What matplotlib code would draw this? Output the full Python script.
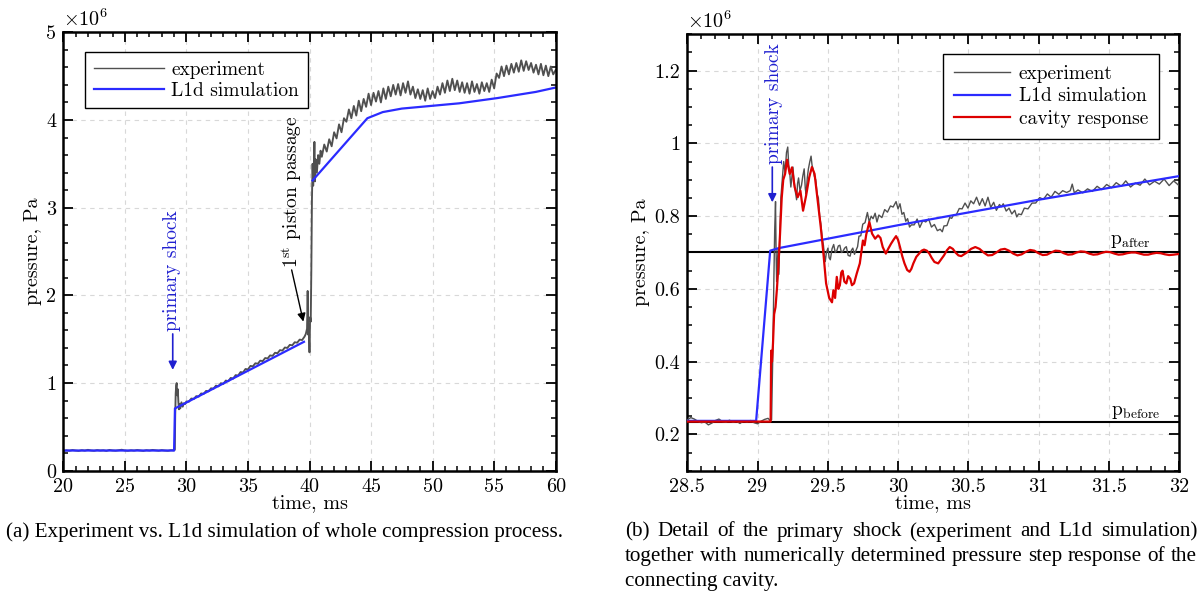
import numpy as np
import matplotlib
matplotlib.use("Agg")
import matplotlib.pyplot as plt
from matplotlib.ticker import MultipleLocator, FormatStrFormatter

plt.rcParams["font.family"] = ["cmr10", "DejaVu Serif"]
plt.rcParams["mathtext.fontset"] = "cm"
plt.rcParams["axes.unicode_minus"] = False
plt.rcParams["axes.formatter.use_mathtext"] = True

# ---- data (pressure in 1e6 Pa, time in ms) ----
# (a) whole compression process, experiment
exp_a_t0 = np.linspace(20.0, 28.75, 36)
exp_a_p0 = [0.225, 0.232, 0.228, 0.236, 0.230, 0.226, 0.234, 0.229, 0.238, 0.231, 0.227, 0.235,
            0.230, 0.233, 0.226, 0.237, 0.231, 0.228, 0.234, 0.239, 0.230, 0.227, 0.233, 0.229,
            0.236, 0.231, 0.226, 0.234, 0.230, 0.237, 0.232, 0.228, 0.235, 0.230, 0.227, 0.234]
exp_a_t1 = [29.0, 29.06, 29.09, 29.13, 29.17, 29.21, 29.25, 29.3, 29.35, 29.4, 29.45, 29.5,
            29.6, 29.7, 29.8, 29.9]
exp_a_p1 = [0.232, 0.24, 0.62, 0.88, 0.97, 1.0, 0.86, 0.93, 0.78, 0.70, 0.76, 0.71,
            0.78, 0.73, 0.77, 0.76]
exp_a_t2 = np.linspace(30.0, 39.6, 49)
exp_a_p2 = [0.79, 0.787, 0.823, 0.818, 0.85, 0.845, 0.881, 0.876, 0.91, 0.905,
            0.94, 0.935, 0.97, 0.962, 0.998, 0.99, 1.028, 1.02, 1.058, 1.05,
            1.09, 1.085, 1.125, 1.12, 1.16, 1.155, 1.195, 1.19, 1.225, 1.22,
            1.255, 1.25, 1.285, 1.28, 1.315, 1.31, 1.345, 1.34, 1.375, 1.37,
            1.405, 1.40, 1.435, 1.43, 1.465, 1.46, 1.495, 1.49, 1.53]
exp_a_t3 = [39.7, 39.8, 39.85, 39.9, 39.95, 40.0, 40.05, 40.1, 40.15, 40.2, 40.25, 40.3,
            40.35, 40.4, 40.45, 40.5, 40.6, 40.7, 40.8, 40.9]
exp_a_p3 = [1.56, 1.62, 2.05, 1.55, 1.60, 1.35, 1.75, 1.70, 2.30, 3.10, 3.50, 3.25,
            3.45, 3.75, 3.30, 3.55, 3.40, 3.60, 3.50, 3.65]
exp_a_t4 = np.linspace(41.0, 60.0, 96)
exp_a_p4 = [3.58, 3.72, 3.64, 3.78, 3.70, 3.86, 3.79, 3.95, 3.86, 4.02,
            3.98, 4.12, 4.02, 4.16, 4.05, 4.22, 4.10, 4.24, 4.15, 4.30,
            4.17, 4.31, 4.21, 4.33, 4.20, 4.36, 4.24, 4.38, 4.27, 4.40,
            4.29, 4.41, 4.28, 4.42, 4.31, 4.44, 4.29, 4.38, 4.25, 4.35,
            4.24, 4.34, 4.22, 4.36, 4.24, 4.33, 4.25, 4.38, 4.29, 4.42,
            4.31, 4.45, 4.33, 4.47, 4.34, 4.45, 4.32, 4.43, 4.31, 4.42,
            4.30, 4.44, 4.32, 4.41, 4.30, 4.43, 4.33, 4.42, 4.32, 4.46,
            4.36, 4.53, 4.48, 4.61, 4.50, 4.62, 4.52, 4.64, 4.54, 4.65,
            4.55, 4.68, 4.56, 4.67, 4.57, 4.65, 4.54, 4.63, 4.52, 4.64,
            4.51, 4.62, 4.50, 4.61, 4.52, 4.57]

# (a) L1d simulation (gap where the jump is hidden)
sim_a_t = [20.0, 29.0, 29.07, 39.55, np.nan, 40.25, 44.7, 45.95, 47.5, 49.06, 52.16, 55.27, 58.38, 60.0]
sim_a_p = [0.23, 0.23, 0.71, 1.47, np.nan, 3.31, 4.02, 4.09, 4.13, 4.15, 4.19, 4.25, 4.32, 4.37]

# (b) detail of the primary shock, experiment
exp_b_t0 = np.linspace(28.5, 29.075, 24)
exp_b_p0 = [0.240, 0.246, 0.242, 0.236, 0.232, 0.234, 0.226, 0.231, 0.238, 0.242, 0.235, 0.233,
            0.239, 0.233, 0.236, 0.230, 0.237, 0.234, 0.238, 0.232, 0.229, 0.236, 0.241, 0.244]
exp_b_t1 = [29.090, 29.100, 29.104, 29.110, 29.116, 29.122, 29.128, 29.132, 29.136, 29.140,
            29.146, 29.152, 29.158, 29.166, 29.176, 29.186, 29.196, 29.206, 29.215, 29.222,
            29.229, 29.237, 29.245, 29.252, 29.259, 29.268, 29.278, 29.285, 29.292, 29.302,
            29.313, 29.322, 29.332, 29.340, 29.346, 29.354, 29.362, 29.372, 29.381, 29.388,
            29.395, 29.404, 29.414, 29.424, 29.433, 29.442, 29.450, 29.460, 29.469, 29.476,
            29.482, 29.490, 29.501, 29.510, 29.518, 29.530, 29.542, 29.553, 29.564, 29.575,
            29.586, 29.597, 29.608, 29.620, 29.632, 29.645, 29.659, 29.668, 29.678, 29.690,
            29.700, 29.712, 29.722, 29.735, 29.749, 29.765, 29.782, 29.795, 29.809, 29.822,
            29.837, 29.850, 29.864, 29.885, 29.905, 29.925, 29.946, 29.965, 29.986, 30.000,
            30.014, 30.028, 30.041, 30.055, 30.068, 30.082, 30.095, 30.115, 30.136, 30.155,
            30.177, 30.197, 30.218, 30.238, 30.259, 30.280, 30.300, 30.315, 30.327, 30.348,
            30.368, 30.382, 30.395, 30.415, 30.436, 30.456, 30.477, 30.498, 30.518, 30.538,
            30.559, 30.580, 30.600, 30.620, 30.640, 30.660, 30.681, 30.700, 30.722, 30.736,
            30.749, 30.770, 30.790, 30.810, 30.831, 30.845, 30.858, 30.878, 30.899, 30.925,
            30.954, 30.980, 31.008, 31.035, 31.063, 31.090, 31.117, 31.145, 31.172, 31.200,
            31.226, 31.240, 31.255, 31.281, 31.315, 31.349, 31.383, 31.417, 31.450, 31.485,
            31.520, 31.553, 31.590, 31.621, 31.655, 31.689, 31.723, 31.757, 31.790, 31.826,
            31.860, 31.894, 31.930, 31.962, 32.000]
exp_b_p1 = [0.238, 0.240, 0.32, 0.45, 0.62, 0.76, 0.84, 0.70, 0.62, 0.66,
            0.71, 0.64, 0.74, 0.85, 0.90, 0.95, 0.92, 0.975, 0.99, 0.94,
            0.92, 0.88, 0.91, 0.935, 0.90, 0.87, 0.845, 0.89, 0.905, 0.87,
            0.885, 0.91, 0.93, 0.875, 0.86, 0.905, 0.93, 0.95, 0.965, 0.94,
            0.93, 0.91, 0.90, 0.86, 0.85, 0.80, 0.78, 0.74, 0.72, 0.69,
            0.675, 0.70, 0.712, 0.685, 0.68, 0.71, 0.722, 0.70, 0.705, 0.718,
            0.72, 0.70, 0.703, 0.712, 0.716, 0.692, 0.69, 0.706, 0.712, 0.695,
            0.705, 0.716, 0.745, 0.746, 0.778, 0.782, 0.81, 0.784, 0.80, 0.793,
            0.808, 0.784, 0.803, 0.796, 0.818, 0.811, 0.828, 0.825, 0.84, 0.82,
            0.834, 0.805, 0.81, 0.786, 0.793, 0.77, 0.776, 0.776, 0.792, 0.769,
            0.788, 0.784, 0.792, 0.77, 0.777, 0.76, 0.764, 0.757, 0.773, 0.774,
            0.796, 0.794, 0.803, 0.804, 0.821, 0.82, 0.836, 0.822, 0.842, 0.834,
            0.852, 0.83, 0.848, 0.828, 0.852, 0.824, 0.838, 0.816, 0.832, 0.826,
            0.834, 0.814, 0.822, 0.806, 0.816, 0.798, 0.806, 0.804, 0.822, 0.82,
            0.836, 0.836, 0.851, 0.846, 0.861, 0.852, 0.868, 0.86, 0.87, 0.865,
            0.87, 0.888, 0.864, 0.872, 0.864, 0.875, 0.868, 0.882, 0.873, 0.887,
            0.878, 0.892, 0.882, 0.897, 0.88, 0.891, 0.885, 0.902, 0.886, 0.896,
            0.888, 0.902, 0.884, 0.897, 0.884]

# (b) L1d simulation
sim_b_t = [28.5, 28.99, 29.09, 29.15, 30.0, 31.0, 32.0]
sim_b_p = [0.237, 0.237, 0.705, 0.712, 0.775, 0.845, 0.91]

# (b) cavity response
cav_t = [28.5, 29.093, 29.097, 29.103, 29.110, 29.118, 29.128, 29.138, 29.148, 29.160,
         29.172, 29.183, 29.196, 29.21, 29.229, 29.245, 29.264, 29.286, 29.305, 29.324,
         29.346, 29.368, 29.387, 29.406, 29.428, 29.45, 29.469, 29.488, 29.51, 29.53,
         29.54, 29.552, 29.564, 29.575, 29.586, 29.596, 29.605, 29.618, 29.632, 29.645,
         29.66, 29.672, 29.687, 29.706, 29.728, 29.75, 29.762, 29.774, 29.796, 29.815,
         29.837, 29.858, 29.875, 29.891, 29.913, 29.93, 29.95, 29.968, 29.986, 30.0,
         30.014, 30.03, 30.046, 30.065, 30.082, 30.095, 30.109, 30.13, 30.15, 30.168,
         30.185, 30.205, 30.223, 30.24, 30.259, 30.286, 30.305, 30.327, 30.348, 30.368,
         30.39, 30.409, 30.43, 30.45, 30.47, 30.49, 30.52, 30.55, 30.58, 30.61,
         30.64, 30.67, 30.70, 30.73, 30.76, 30.79, 30.82, 30.85, 30.88, 30.91,
         30.94, 30.97, 31.00, 31.03, 31.06, 31.09, 31.12, 31.15, 31.18, 31.21,
         31.24, 31.27, 31.30, 31.33, 31.36, 31.39, 31.42, 31.45, 31.48, 31.51,
         31.54, 31.57, 31.60, 31.63, 31.66, 31.69, 31.72, 31.75, 31.78, 31.81,
         31.84, 31.87, 31.90, 31.93, 31.96, 32.0]
cav_p = [0.235, 0.235, 0.43, 0.40, 0.45, 0.53, 0.55, 0.60, 0.66, 0.75,
         0.85, 0.90, 0.916, 0.955, 0.916, 0.934, 0.88, 0.852, 0.87, 0.815,
         0.857, 0.907, 0.935, 0.916, 0.843, 0.77, 0.697, 0.615, 0.575, 0.563,
         0.596, 0.575, 0.633, 0.60, 0.61, 0.645, 0.65, 0.62, 0.615, 0.635,
         0.628, 0.61, 0.615, 0.642, 0.67, 0.733, 0.72, 0.75, 0.784, 0.752,
         0.738, 0.747, 0.74, 0.715, 0.697, 0.71, 0.724, 0.735, 0.745, 0.735,
         0.715, 0.69, 0.67, 0.652, 0.647, 0.655, 0.67, 0.688, 0.697, 0.705,
         0.708, 0.705, 0.697, 0.685, 0.674, 0.67, 0.68, 0.692, 0.706, 0.715,
         0.71, 0.70, 0.692, 0.69, 0.695, 0.70, 0.71, 0.715, 0.71, 0.70,
         0.692, 0.693, 0.70, 0.708, 0.71, 0.705, 0.697, 0.692, 0.695, 0.702,
         0.707, 0.705, 0.698, 0.693, 0.694, 0.70, 0.705, 0.704, 0.698, 0.694,
         0.695, 0.70, 0.703, 0.702, 0.697, 0.694, 0.695, 0.699, 0.702, 0.701,
         0.697, 0.694, 0.695, 0.698, 0.70, 0.70, 0.697, 0.694, 0.694, 0.697,
         0.699, 0.698, 0.695, 0.693, 0.694, 0.696]

p_after = 0.702
p_before = 0.233

caption_a = "(a) Experiment vs. L1d simulation of whole compression process."
caption_b = ["(b) Detail of the primary shock (experiment and L1d simulation)",
             "together with numerically determined pressure step response of the",
             "connecting cavity."]

# ---- styling ----
c_exp = "#505050"
c_sim = "#2b2bff"
c_cav = "#dd0000"
c_ann = "#2020d0"
fs = 14.5
fs_ann = 14

W, H = 1199, 597
fig = plt.figure(figsize=(W / 100, H / 100), dpi=100)
ax1 = fig.add_axes([63.3 / W, 1 - 470.7 / H, 492.4 / W, 438.4 / H])
ax2 = fig.add_axes([687.3 / W, 1 - 470.7 / H, 491.7 / W, 436.4 / H])


def style_axes(ax):
    ax.set_axisbelow(True)
    ax.grid(True, which="major", ls=(0, (4, 4)), color="#d8d8d8", lw=0.8)
    ax.tick_params(which="both", direction="in", top=True, right=True, labelsize=fs, pad=5)
    ax.tick_params(which="major", length=7, width=1.3)
    ax.tick_params(which="minor", length=3.5, width=1.1)
    for s in ax.spines.values():
        s.set_linewidth(1.8)
    ax.xaxis.set_major_formatter(FormatStrFormatter("%g"))
    ax.yaxis.set_major_formatter(FormatStrFormatter("%g"))
    ax.set_xlabel("time, ms", fontsize=fs, labelpad=-1)
    ax.set_ylabel("pressure, Pa", fontsize=fs, labelpad=3)
    ax.text(0, 1.006, r"$\times10^{6}$", transform=ax.transAxes, ha="left", va="bottom", fontsize=fs)


# ---- (a) ----
exp_a_t = np.concatenate([exp_a_t0, exp_a_t1, exp_a_t2, exp_a_t3, exp_a_t4])
exp_a_p = np.concatenate([exp_a_p0, exp_a_p1, exp_a_p2, exp_a_p3, exp_a_p4])
ax1.plot(exp_a_t, exp_a_p, color=c_exp, lw=1.35, label="experiment")
ax1.plot(sim_a_t, sim_a_p, color=c_sim, lw=1.6, label="L1d simulation")
ax1.set_xlim(20, 60)
ax1.set_ylim(0, 5)
ax1.xaxis.set_major_locator(MultipleLocator(5))
ax1.xaxis.set_minor_locator(MultipleLocator(1))
ax1.yaxis.set_major_locator(MultipleLocator(1))
ax1.yaxis.set_minor_locator(MultipleLocator(0.2))
style_axes(ax1)
leg = ax1.legend(loc="upper left", bbox_to_anchor=(0.044, 0.955), borderaxespad=0,
                 fontsize=14, fancybox=False, framealpha=1, edgecolor="black",
                 handlelength=3.6, handletextpad=0.4, labelspacing=0.15, borderpad=0.45)
leg.get_frame().set_linewidth(1.0)
leg.get_lines()[0].set_linewidth(1.0)

ax1.text(28.85, 2.28, "primary shock", rotation=90, ha="center", va="center",
         color=c_ann, fontsize=fs_ann)
ax1.annotate("", xy=(28.89, 1.15), xytext=(28.89, 1.56),
             arrowprops=dict(arrowstyle="-|>", color=c_ann, lw=1.2, mutation_scale=12, shrinkA=0, shrinkB=0))
ax1.text(38.55, 2.31, r"$1^{\mathrm{st}}$ piston passage", rotation=90, ha="center", va="bottom",
         color="black", fontsize=fs_ann)
ax1.annotate("", xy=(39.5, 1.70), xytext=(38.55, 2.29),
             arrowprops=dict(arrowstyle="-|>", color="black", lw=1.0, mutation_scale=12, shrinkA=0, shrinkB=0))

# ---- (b) ----
ax2.axhline(p_after, color="black", lw=1.5, zorder=2)
ax2.axhline(p_before, color="black", lw=1.5, zorder=2)
exp_b_t = np.concatenate([exp_b_t0, exp_b_t1])
exp_b_p = np.concatenate([exp_b_p0, exp_b_p1])
ax2.plot(exp_b_t, exp_b_p, color=c_exp, lw=1.0, label="experiment", zorder=3)
ax2.plot(sim_b_t, sim_b_p, color=c_sim, lw=1.6, label="L1d simulation", zorder=4)
ax2.plot(cav_t, cav_p, color=c_cav, lw=1.6, label="cavity response", zorder=5)
ax2.set_xlim(28.5, 32)
ax2.set_ylim(0.1, 1.3)
ax2.xaxis.set_major_locator(MultipleLocator(0.5))
ax2.xaxis.set_minor_locator(MultipleLocator(0.1))
ax2.yaxis.set_major_locator(MultipleLocator(0.2))
ax2.yaxis.set_minor_locator(MultipleLocator(0.05))
style_axes(ax2)
leg2 = ax2.legend(loc="upper right", bbox_to_anchor=(0.959, 0.955), borderaxespad=0,
                  fontsize=14, fancybox=False, framealpha=1, edgecolor="black",
                  handlelength=2.9, handletextpad=0.45, labelspacing=0.25, borderpad=0.55)
leg2.get_frame().set_linewidth(1.0)

ax2.text(29.12, 1.11, "primary shock", rotation=90, ha="center", va="center",
         color=c_ann, fontsize=fs_ann)
ax2.annotate("", xy=(29.105, 0.838), xytext=(29.105, 0.935),
             arrowprops=dict(arrowstyle="-|>", color=c_ann, lw=1.2, mutation_scale=12, shrinkA=0, shrinkB=0))
ax2.text(31.8, p_after + 0.004, r"$\mathrm{p_{after}}$", ha="right", va="bottom", fontsize=fs_ann)
ax2.text(31.865, p_before + 0.004, r"$\mathrm{p_{before}}$", ha="right", va="bottom", fontsize=fs_ann)

# ---- captions ----
cap_kw = dict(family="Liberation Serif", fontsize=15.2, va="center")
fig.text(5.7 / W, 1 - 532 / H, caption_a, ha="left", **cap_kw)

renderer = fig.canvas.get_renderer()
x0, x1 = 625 / W, 1197 / W
for i, line in enumerate(caption_b):
    y = 1 - (532 + 24.8 * i) / H
    if i == len(caption_b) - 1:
        fig.text(x0, y, line, ha="left", **cap_kw)
        continue
    words = line.split(" ")
    texts = [fig.text(0, y, w, ha="left", **cap_kw) for w in words]
    widths = [t.get_window_extent(renderer).width / W for t in texts]
    gap = (x1 - x0 - sum(widths)) / (len(words) - 1)
    x = x0
    for t, w in zip(texts, widths):
        t.set_x(x)
        x += w + gap

fig.savefig("out.png", dpi=100)
